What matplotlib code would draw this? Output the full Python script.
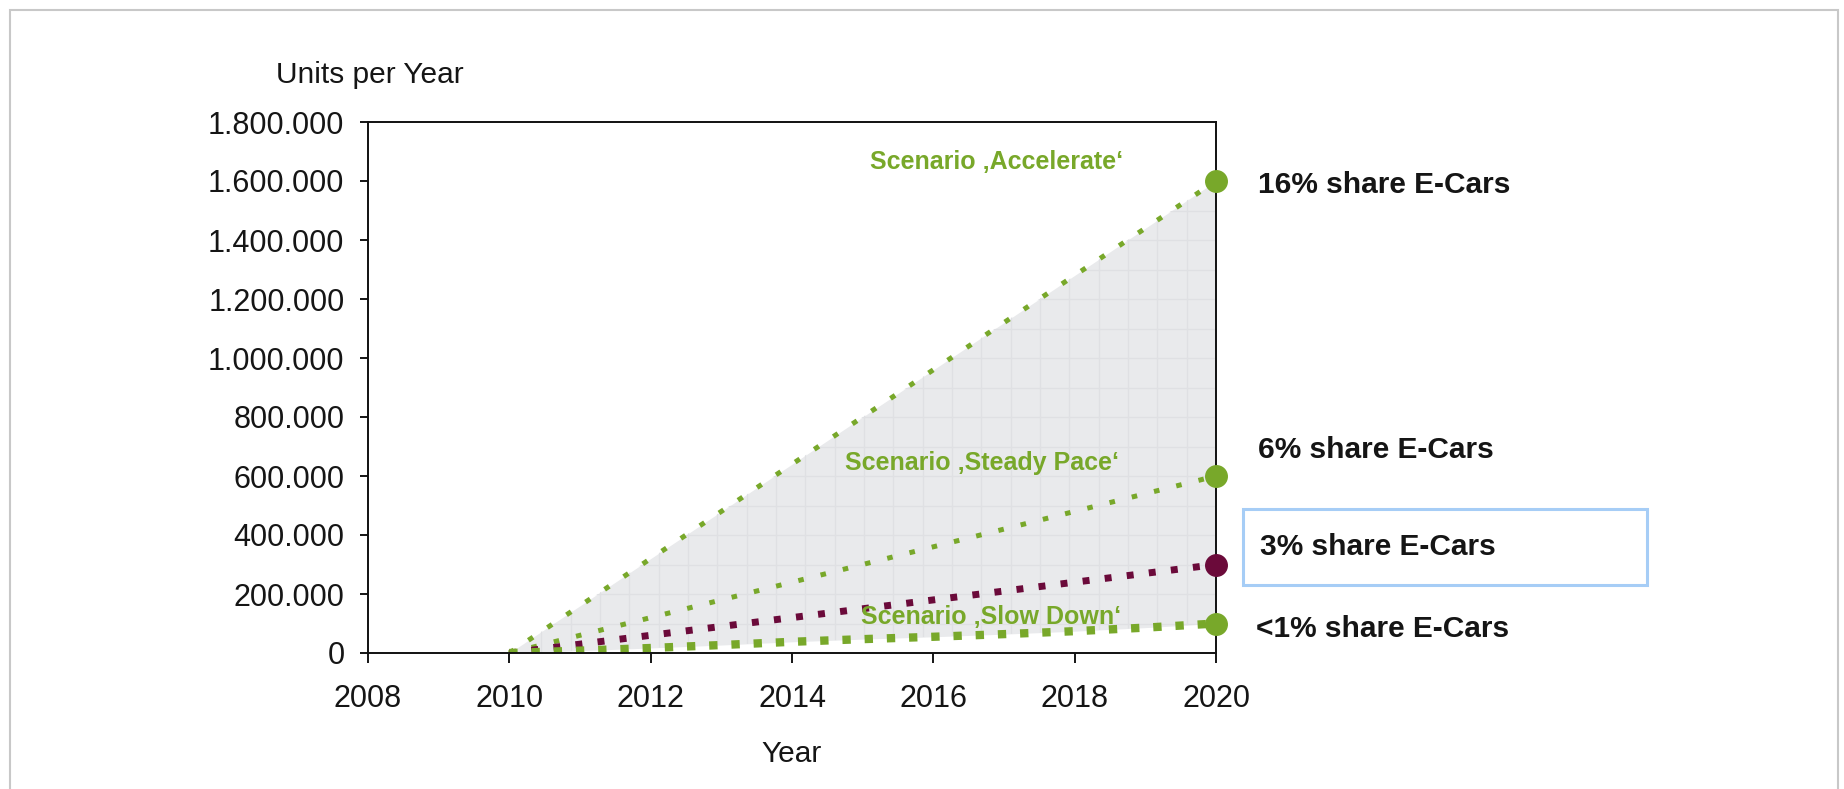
import numpy as np
import matplotlib
matplotlib.use('Agg')
import matplotlib.pyplot as plt
from matplotlib.patches import Rectangle

plt.rcParams['font.family'] = ['Liberation Sans', 'DejaVu Sans']
plt.rcParams['lines.scale_dashes'] = False

# data
years = [2010, 2011, 2012, 2013, 2014, 2015, 2016, 2017, 2018, 2019, 2020]
accelerate = [0, 160000, 320000, 480000, 640000, 800000, 960000, 1120000, 1280000, 1440000, 1600000]
steady = [0, 60000, 120000, 180000, 240000, 300000, 360000, 420000, 480000, 540000, 600000]
base = [0, 30000, 60000, 90000, 120000, 150000, 180000, 210000, 240000, 270000, 300000]
slow = [0, 8000, 17000, 27000, 38000, 47000, 55000, 64000, 74000, 86000, 100000]

scenario_labels = ["Scenario \u201aAccelerate\u2018", "Scenario \u201aSteady Pace\u2018", "Scenario \u201aSlow Down\u2018"]
share_labels = ["16% share E-Cars", "6% share E-Cars", "3% share E-Cars", "<1% share E-Cars"]
xticks = [2008, 2010, 2012, 2014, 2016, 2018, 2020]
yticks = [0, 200000, 400000, 600000, 800000, 1000000, 1200000, 1400000, 1600000, 1800000]

green = '#78a82a'
purple = '#6b0a3a'
txt = '#151515'
fill_c = '#e9eaec'
grid_c = '#dfe0e3'

fig = plt.figure(figsize=(18.44, 7.89), dpi=100)
ax = fig.add_axes([368/1844, 136/789, 848/1844, 531/789])

# outer frame
fig.patches.append(Rectangle((10/1844, -0.02), 1828/1844, 1 - 10/789 + 0.02,
                             transform=fig.transFigure, fill=False,
                             edgecolor='#c8c8c8', lw=1.5))

# shaded corridor between fastest and slowest scenario
poly = ax.fill_between(years, slow, accelerate, color=fill_c, lw=0, zorder=1)
clip = poly.get_paths()[0]
gx = np.arange(2020, 2009.9, -0.415)
gy = np.arange(0, 1700001, 100000)
vl = ax.vlines(gx, 0, 1800000, colors=grid_c, lw=1, zorder=1.5)
hl = ax.hlines(gy, 2008, 2020, colors=grid_c, lw=1, zorder=1.5)
vl.set_clip_path(clip, ax.transData)
hl.set_clip_path(clip, ax.transData)

# scenario lines
ax.plot(years, accelerate, color=green, lw=3.6, dashes=(4, 12.5), zorder=3)
ax.plot(years, steady, color=green, lw=3.6, dashes=(4, 12.5), zorder=3)
ax.plot(years, base, color=purple, lw=5, dashes=(5, 11), zorder=3)
ax.plot(years, slow, color=green, lw=6, dashes=(6, 10), zorder=3)

# end markers
for vals, c in [(accelerate, green), (steady, green), (base, purple), (slow, green)]:
    ax.plot(years[-1], vals[-1], 'o', color=c, ms=15.5, zorder=5, clip_on=False)

ax.set_xlim(2008, 2020)
ax.set_ylim(0, 1800000)
ax.set_xticks(xticks)
ax.set_yticks(yticks)
ax.set_yticklabels(['{:,}'.format(v).replace(',', '.') for v in yticks])
ax.tick_params(axis='x', length=7, width=1.4, pad=15, labelsize=22, colors=txt)
ax.tick_params(axis='y', length=6, width=1.4, pad=11, labelsize=22, colors=txt)
for s in ax.spines.values():
    s.set_linewidth(1.4)
    s.set_color('#111111')
    s.set_zorder(4)

fig.text(370/1844, 1 - 83/789, 'Units per Year', ha='center', va='baseline', fontsize=21.5, color=txt)
ax.annotate('Year', xy=(0.5, 0), xycoords='axes fraction', xytext=(0, -78.5),
            textcoords='offset points', ha='center', va='baseline', fontsize=21.5, color=txt)

# scenario names
ax.text(2016.89, 1664000, scenario_labels[0], ha='center', va='center', fontsize=18,
        fontweight='bold', color=green)
ax.text(2016.69, 644000, scenario_labels[1], ha='center', va='center', fontsize=18,
        fontweight='bold', color=green)
ax.text(2016.82, 122000, scenario_labels[2], ha='center', va='center', fontsize=18,
        fontweight='bold', color=green, zorder=6)

# share labels right of the axes
ends = [accelerate[-1], steady[-1], base[-1], slow[-1]]
offsets = [(30, -3), (30, 19), (32, 12.5), (29, -4)]
for lab, v, off in zip(share_labels, ends, offsets):
    ax.annotate(lab, xy=(years[-1], v), xytext=off, textcoords='offset points',
                ha='left', va='center', fontsize=21.5, fontweight='bold', color=txt,
                annotation_clip=False)

fig.patches.append(Rectangle((1243/1844, 204/789), 404/1844, 76/789,
                             transform=fig.transFigure, fill=False,
                             edgecolor='#a6cdf6', lw=2.2))

fig.savefig('out.png', dpi=100)
